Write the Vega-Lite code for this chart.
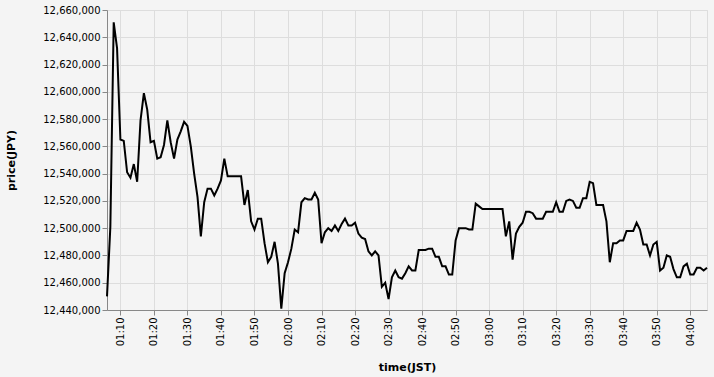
{
  "$schema": "https://vega.github.io/schema/vega-lite/v6.json",
  "width": 600,
  "height": 300,
  "background": "#f4f4f4",
  "config": {
    "font": "DejaVu Sans",
    "axis": {"gridColor": "#dddddd", "domainColor": "#888888", "tickColor": "#888888", "labelColor": "#000000", "titleColor": "#000000", "labelFont": "DejaVu Sans", "titleFont": "DejaVu Sans"},
    "view": {"stroke": "#dddddd"}
  },
  "data": {
    "values": [
      {"time": "2021-01-01T01:06:00Z", "price": 12450000}, {"time": "2021-01-01T01:07:00Z", "price": 12501000}, {"time": "2021-01-01T01:08:00Z", "price": 12651000},
      {"time": "2021-01-01T01:09:00Z", "price": 12632000}, {"time": "2021-01-01T01:10:00Z", "price": 12565000}, {"time": "2021-01-01T01:11:00Z", "price": 12564000},
      {"time": "2021-01-01T01:12:00Z", "price": 12541000}, {"time": "2021-01-01T01:13:00Z", "price": 12537000}, {"time": "2021-01-01T01:14:00Z", "price": 12547000},
      {"time": "2021-01-01T01:15:00Z", "price": 12534000}, {"time": "2021-01-01T01:16:00Z", "price": 12579000}, {"time": "2021-01-01T01:17:00Z", "price": 12599000},
      {"time": "2021-01-01T01:18:00Z", "price": 12587000}, {"time": "2021-01-01T01:19:00Z", "price": 12563000}, {"time": "2021-01-01T01:20:00Z", "price": 12564000},
      {"time": "2021-01-01T01:21:00Z", "price": 12551000}, {"time": "2021-01-01T01:22:00Z", "price": 12552000}, {"time": "2021-01-01T01:23:00Z", "price": 12561000},
      {"time": "2021-01-01T01:24:00Z", "price": 12579000}, {"time": "2021-01-01T01:25:00Z", "price": 12563000}, {"time": "2021-01-01T01:26:00Z", "price": 12551000},
      {"time": "2021-01-01T01:27:00Z", "price": 12565000}, {"time": "2021-01-01T01:28:00Z", "price": 12571000}, {"time": "2021-01-01T01:29:00Z", "price": 12578000},
      {"time": "2021-01-01T01:30:00Z", "price": 12575000}, {"time": "2021-01-01T01:31:00Z", "price": 12560000}, {"time": "2021-01-01T01:32:00Z", "price": 12540000},
      {"time": "2021-01-01T01:33:00Z", "price": 12523000}, {"time": "2021-01-01T01:34:00Z", "price": 12494000}, {"time": "2021-01-01T01:35:00Z", "price": 12519000},
      {"time": "2021-01-01T01:36:00Z", "price": 12529000}, {"time": "2021-01-01T01:37:00Z", "price": 12529000}, {"time": "2021-01-01T01:38:00Z", "price": 12524000},
      {"time": "2021-01-01T01:39:00Z", "price": 12529000}, {"time": "2021-01-01T01:40:00Z", "price": 12535000}, {"time": "2021-01-01T01:41:00Z", "price": 12551000},
      {"time": "2021-01-01T01:42:00Z", "price": 12538000}, {"time": "2021-01-01T01:43:00Z", "price": 12538000}, {"time": "2021-01-01T01:44:00Z", "price": 12538000},
      {"time": "2021-01-01T01:45:00Z", "price": 12538000}, {"time": "2021-01-01T01:46:00Z", "price": 12538000}, {"time": "2021-01-01T01:47:00Z", "price": 12517000},
      {"time": "2021-01-01T01:48:00Z", "price": 12528000}, {"time": "2021-01-01T01:49:00Z", "price": 12505000}, {"time": "2021-01-01T01:50:00Z", "price": 12499000},
      {"time": "2021-01-01T01:51:00Z", "price": 12507000}, {"time": "2021-01-01T01:52:00Z", "price": 12507000}, {"time": "2021-01-01T01:53:00Z", "price": 12489000},
      {"time": "2021-01-01T01:54:00Z", "price": 12475000}, {"time": "2021-01-01T01:55:00Z", "price": 12479000}, {"time": "2021-01-01T01:56:00Z", "price": 12490000},
      {"time": "2021-01-01T01:57:00Z", "price": 12474000}, {"time": "2021-01-01T01:58:00Z", "price": 12441000}, {"time": "2021-01-01T01:59:00Z", "price": 12467000},
      {"time": "2021-01-01T02:00:00Z", "price": 12475000}, {"time": "2021-01-01T02:01:00Z", "price": 12485000}, {"time": "2021-01-01T02:02:00Z", "price": 12499000},
      {"time": "2021-01-01T02:03:00Z", "price": 12497000}, {"time": "2021-01-01T02:04:00Z", "price": 12519000}, {"time": "2021-01-01T02:05:00Z", "price": 12522000},
      {"time": "2021-01-01T02:06:00Z", "price": 12521000}, {"time": "2021-01-01T02:07:00Z", "price": 12521000}, {"time": "2021-01-01T02:08:00Z", "price": 12526000},
      {"time": "2021-01-01T02:09:00Z", "price": 12521000}, {"time": "2021-01-01T02:10:00Z", "price": 12489000}, {"time": "2021-01-01T02:11:00Z", "price": 12497000},
      {"time": "2021-01-01T02:12:00Z", "price": 12500000}, {"time": "2021-01-01T02:13:00Z", "price": 12498000}, {"time": "2021-01-01T02:14:00Z", "price": 12502000},
      {"time": "2021-01-01T02:15:00Z", "price": 12498000}, {"time": "2021-01-01T02:16:00Z", "price": 12503000}, {"time": "2021-01-01T02:17:00Z", "price": 12507000},
      {"time": "2021-01-01T02:18:00Z", "price": 12502000}, {"time": "2021-01-01T02:19:00Z", "price": 12502000}, {"time": "2021-01-01T02:20:00Z", "price": 12504000},
      {"time": "2021-01-01T02:21:00Z", "price": 12496000}, {"time": "2021-01-01T02:22:00Z", "price": 12493000}, {"time": "2021-01-01T02:23:00Z", "price": 12492000},
      {"time": "2021-01-01T02:24:00Z", "price": 12483000}, {"time": "2021-01-01T02:25:00Z", "price": 12480000}, {"time": "2021-01-01T02:26:00Z", "price": 12483000},
      {"time": "2021-01-01T02:27:00Z", "price": 12480000}, {"time": "2021-01-01T02:28:00Z", "price": 12457000}, {"time": "2021-01-01T02:29:00Z", "price": 12460000},
      {"time": "2021-01-01T02:30:00Z", "price": 12448000}, {"time": "2021-01-01T02:31:00Z", "price": 12464000}, {"time": "2021-01-01T02:32:00Z", "price": 12469000},
      {"time": "2021-01-01T02:33:00Z", "price": 12464000}, {"time": "2021-01-01T02:34:00Z", "price": 12463000}, {"time": "2021-01-01T02:35:00Z", "price": 12467000},
      {"time": "2021-01-01T02:36:00Z", "price": 12472000}, {"time": "2021-01-01T02:37:00Z", "price": 12469000}, {"time": "2021-01-01T02:38:00Z", "price": 12469000},
      {"time": "2021-01-01T02:39:00Z", "price": 12484000}, {"time": "2021-01-01T02:40:00Z", "price": 12484000}, {"time": "2021-01-01T02:41:00Z", "price": 12484000},
      {"time": "2021-01-01T02:42:00Z", "price": 12485000}, {"time": "2021-01-01T02:43:00Z", "price": 12485000}, {"time": "2021-01-01T02:44:00Z", "price": 12479000},
      {"time": "2021-01-01T02:45:00Z", "price": 12479000}, {"time": "2021-01-01T02:46:00Z", "price": 12472000}, {"time": "2021-01-01T02:47:00Z", "price": 12472000},
      {"time": "2021-01-01T02:48:00Z", "price": 12466000}, {"time": "2021-01-01T02:49:00Z", "price": 12466000}, {"time": "2021-01-01T02:50:00Z", "price": 12491000},
      {"time": "2021-01-01T02:51:00Z", "price": 12500000}, {"time": "2021-01-01T02:52:00Z", "price": 12500000}, {"time": "2021-01-01T02:53:00Z", "price": 12500000},
      {"time": "2021-01-01T02:54:00Z", "price": 12499000}, {"time": "2021-01-01T02:55:00Z", "price": 12499000}, {"time": "2021-01-01T02:56:00Z", "price": 12518000},
      {"time": "2021-01-01T02:57:00Z", "price": 12516000}, {"time": "2021-01-01T02:58:00Z", "price": 12514000}, {"time": "2021-01-01T02:59:00Z", "price": 12514000},
      {"time": "2021-01-01T03:00:00Z", "price": 12514000}, {"time": "2021-01-01T03:01:00Z", "price": 12514000}, {"time": "2021-01-01T03:02:00Z", "price": 12514000},
      {"time": "2021-01-01T03:03:00Z", "price": 12514000}, {"time": "2021-01-01T03:04:00Z", "price": 12514000}, {"time": "2021-01-01T03:05:00Z", "price": 12494000},
      {"time": "2021-01-01T03:06:00Z", "price": 12505000}, {"time": "2021-01-01T03:07:00Z", "price": 12477000}, {"time": "2021-01-01T03:08:00Z", "price": 12496000},
      {"time": "2021-01-01T03:09:00Z", "price": 12501000}, {"time": "2021-01-01T03:10:00Z", "price": 12504000}, {"time": "2021-01-01T03:11:00Z", "price": 12512000},
      {"time": "2021-01-01T03:12:00Z", "price": 12512000}, {"time": "2021-01-01T03:13:00Z", "price": 12511000}, {"time": "2021-01-01T03:14:00Z", "price": 12507000},
      {"time": "2021-01-01T03:15:00Z", "price": 12507000}, {"time": "2021-01-01T03:16:00Z", "price": 12507000}, {"time": "2021-01-01T03:17:00Z", "price": 12512000},
      {"time": "2021-01-01T03:18:00Z", "price": 12512000}, {"time": "2021-01-01T03:19:00Z", "price": 12512000}, {"time": "2021-01-01T03:20:00Z", "price": 12519000},
      {"time": "2021-01-01T03:21:00Z", "price": 12512000}, {"time": "2021-01-01T03:22:00Z", "price": 12512000}, {"time": "2021-01-01T03:23:00Z", "price": 12520000},
      {"time": "2021-01-01T03:24:00Z", "price": 12521000}, {"time": "2021-01-01T03:25:00Z", "price": 12520000}, {"time": "2021-01-01T03:26:00Z", "price": 12515000},
      {"time": "2021-01-01T03:27:00Z", "price": 12515000}, {"time": "2021-01-01T03:28:00Z", "price": 12522000}, {"time": "2021-01-01T03:29:00Z", "price": 12522000},
      {"time": "2021-01-01T03:30:00Z", "price": 12534000}, {"time": "2021-01-01T03:31:00Z", "price": 12533000}, {"time": "2021-01-01T03:32:00Z", "price": 12517000},
      {"time": "2021-01-01T03:33:00Z", "price": 12517000}, {"time": "2021-01-01T03:34:00Z", "price": 12517000}, {"time": "2021-01-01T03:35:00Z", "price": 12505000},
      {"time": "2021-01-01T03:36:00Z", "price": 12475000}, {"time": "2021-01-01T03:37:00Z", "price": 12489000}, {"time": "2021-01-01T03:38:00Z", "price": 12489000},
      {"time": "2021-01-01T03:39:00Z", "price": 12491000}, {"time": "2021-01-01T03:40:00Z", "price": 12491000}, {"time": "2021-01-01T03:41:00Z", "price": 12498000},
      {"time": "2021-01-01T03:42:00Z", "price": 12498000}, {"time": "2021-01-01T03:43:00Z", "price": 12498000}, {"time": "2021-01-01T03:44:00Z", "price": 12504000},
      {"time": "2021-01-01T03:45:00Z", "price": 12499000}, {"time": "2021-01-01T03:46:00Z", "price": 12488000}, {"time": "2021-01-01T03:47:00Z", "price": 12488000},
      {"time": "2021-01-01T03:48:00Z", "price": 12480000}, {"time": "2021-01-01T03:49:00Z", "price": 12488000}, {"time": "2021-01-01T03:50:00Z", "price": 12490000},
      {"time": "2021-01-01T03:51:00Z", "price": 12469000}, {"time": "2021-01-01T03:52:00Z", "price": 12471000}, {"time": "2021-01-01T03:53:00Z", "price": 12480000},
      {"time": "2021-01-01T03:54:00Z", "price": 12479000}, {"time": "2021-01-01T03:55:00Z", "price": 12470000}, {"time": "2021-01-01T03:56:00Z", "price": 12464000},
      {"time": "2021-01-01T03:57:00Z", "price": 12464000}, {"time": "2021-01-01T03:58:00Z", "price": 12472000}, {"time": "2021-01-01T03:59:00Z", "price": 12474000},
      {"time": "2021-01-01T04:00:00Z", "price": 12466000}, {"time": "2021-01-01T04:01:00Z", "price": 12466000}, {"time": "2021-01-01T04:02:00Z", "price": 12471000},
      {"time": "2021-01-01T04:03:00Z", "price": 12471000}, {"time": "2021-01-01T04:04:00Z", "price": 12469000}, {"time": "2021-01-01T04:05:00Z", "price": 12471000}
    ]
  },
  "mark": {"type": "line", "color": "#000000", "strokeWidth": 2},
  "encoding": {
    "x": {
      "field": "time",
      "type": "temporal",
      "title": "time(JST)",
      "scale": {"type": "utc"},
      "axis": {
        "format": "%H:%M",
        "labelAngle": -90,
        "titlePadding": 16,
        "values": [
          {"year": 2021, "month": 1, "date": 1, "hours": 1, "minutes": 10, "utc": true},
          {"year": 2021, "month": 1, "date": 1, "hours": 1, "minutes": 20, "utc": true},
          {"year": 2021, "month": 1, "date": 1, "hours": 1, "minutes": 30, "utc": true},
          {"year": 2021, "month": 1, "date": 1, "hours": 1, "minutes": 40, "utc": true},
          {"year": 2021, "month": 1, "date": 1, "hours": 1, "minutes": 50, "utc": true},
          {"year": 2021, "month": 1, "date": 1, "hours": 2, "minutes": 0, "utc": true},
          {"year": 2021, "month": 1, "date": 1, "hours": 2, "minutes": 10, "utc": true},
          {"year": 2021, "month": 1, "date": 1, "hours": 2, "minutes": 20, "utc": true},
          {"year": 2021, "month": 1, "date": 1, "hours": 2, "minutes": 30, "utc": true},
          {"year": 2021, "month": 1, "date": 1, "hours": 2, "minutes": 40, "utc": true},
          {"year": 2021, "month": 1, "date": 1, "hours": 2, "minutes": 50, "utc": true},
          {"year": 2021, "month": 1, "date": 1, "hours": 3, "minutes": 0, "utc": true},
          {"year": 2021, "month": 1, "date": 1, "hours": 3, "minutes": 10, "utc": true},
          {"year": 2021, "month": 1, "date": 1, "hours": 3, "minutes": 20, "utc": true},
          {"year": 2021, "month": 1, "date": 1, "hours": 3, "minutes": 30, "utc": true},
          {"year": 2021, "month": 1, "date": 1, "hours": 3, "minutes": 40, "utc": true},
          {"year": 2021, "month": 1, "date": 1, "hours": 3, "minutes": 50, "utc": true},
          {"year": 2021, "month": 1, "date": 1, "hours": 4, "minutes": 0, "utc": true}
        ]
      }
    },
    "y": {
      "field": "price",
      "type": "quantitative",
      "title": "price(JPY)",
      "scale": {"domain": [12440000, 12660000], "zero": false},
      "axis": {"format": ",.0f", "titlePadding": 26}
    }
  }
}
